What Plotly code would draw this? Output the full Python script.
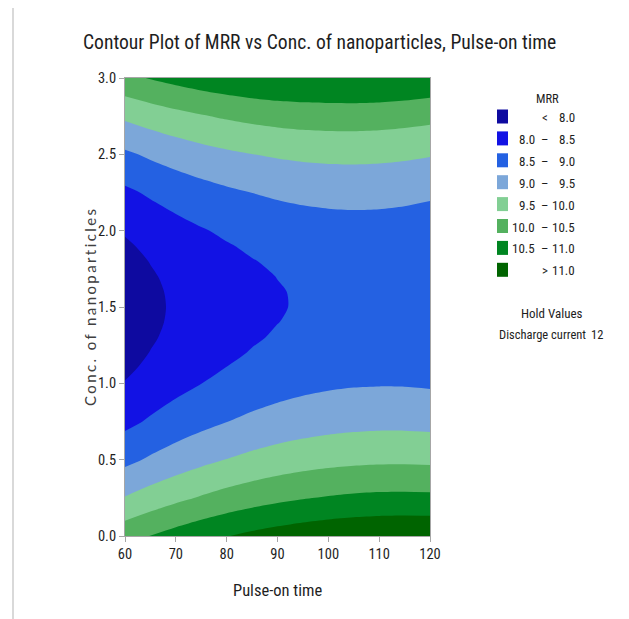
import plotly.graph_objects as go

# ---- data ----
pulse_on_time = [60, 65, 70, 75, 80, 85, 90, 95, 100, 105, 110, 115, 120]
conc_nanoparticles = [0.0, 0.25, 0.5, 0.75, 1.0, 1.1, 1.2, 1.3, 1.4, 1.5,
                      1.6, 1.7, 1.8, 1.9, 2.0, 2.25, 2.5, 2.75, 3.0]

# MRR along conc_nanoparticles, one list per pulse-on time
mrr_t60 = [10.315, 9.524, 8.877, 8.375, 8.019, 7.916, 7.838, 7.782, 7.749, 7.740,
           7.754, 7.791, 7.851, 7.935, 8.042, 8.410, 8.923, 9.582, 10.385]
mrr_t65 = [10.509, 9.713, 9.062, 8.556, 8.195, 8.091, 8.011, 7.953, 7.919, 7.908,
           7.920, 7.956, 8.014, 8.096, 8.201, 8.565, 9.074, 9.728, 10.527]
mrr_t70 = [10.685, 9.885, 9.230, 8.719, 8.354, 8.248, 8.166, 8.107, 8.071, 8.058,
           8.069, 8.102, 8.159, 8.239, 8.342, 8.702, 9.206, 9.856, 10.651]
mrr_t75 = [10.844, 10.039, 9.379, 8.864, 8.495, 8.387, 8.303, 8.242, 8.205, 8.190,
           8.199, 8.231, 8.286, 8.364, 8.466, 8.821, 9.321, 9.966, 10.757]
mrr_t80 = [10.983, 10.174, 9.510, 8.991, 8.617, 8.508, 8.422, 8.359, 8.320, 8.304,
           8.310, 8.341, 8.394, 8.471, 8.570, 8.921, 9.417, 10.058, 10.844]
mrr_t85 = [11.105, 10.291, 9.623, 9.099, 8.721, 8.610, 8.522, 8.458, 8.417, 8.399,
           8.404, 8.433, 8.484, 8.559, 8.657, 9.004, 9.495, 10.132, 10.913]
mrr_t90 = [11.207, 10.389, 9.717, 9.189, 8.806, 8.694, 8.604, 8.538, 8.495, 8.475,
           8.479, 8.506, 8.556, 8.629, 8.725, 9.067, 9.554, 10.186, 10.964]
mrr_t95 = [11.293, 10.471, 9.794, 9.262, 8.874, 8.760, 8.669, 8.601, 8.557, 8.535,
           8.537, 8.562, 8.610, 8.681, 8.776, 9.114, 9.597, 10.224, 10.985]
mrr_t100 = [11.360, 10.533, 9.852, 9.315, 8.924, 8.808, 8.715, 8.646, 8.599, 8.576,
            8.576, 8.599, 8.646, 8.715, 8.808, 9.141, 9.620, 10.243, 10.990]
mrr_t105 = [11.409, 10.578, 9.892, 9.351, 8.956, 8.838, 8.743, 8.672, 8.624, 8.599,
            8.597, 8.619, 8.663, 8.731, 8.822, 9.151, 9.625, 10.245, 10.992]
mrr_t110 = [11.439, 10.604, 9.914, 9.369, 8.968, 8.849, 8.753, 8.680, 8.630, 8.603,
            8.599, 8.619, 8.662, 8.728, 8.818, 9.142, 9.612, 10.227, 10.987]
mrr_t115 = [11.451, 10.612, 9.917, 9.368, 8.963, 8.842, 8.744, 8.669, 8.618, 8.589,
            8.584, 8.602, 8.643, 8.707, 8.795, 9.115, 9.581, 10.191, 10.947]
mrr_t120 = [11.446, 10.602, 9.903, 9.349, 8.940, 8.817, 8.718, 8.641, 8.588, 8.557,
            8.551, 8.567, 8.606, 8.669, 8.755, 9.071, 9.532, 10.138, 10.889]

mrr_columns = [mrr_t60, mrr_t65, mrr_t70, mrr_t75, mrr_t80, mrr_t85, mrr_t90,
               mrr_t95, mrr_t100, mrr_t105, mrr_t110, mrr_t115, mrr_t120]

x_ticks = [60, 70, 80, 90, 100, 110, 120]
y_ticks = [0.0, 0.5, 1.0, 1.5, 2.0, 2.5, 3.0]

level_start, level_end, level_step = 8.0, 11.0, 0.5
band_colors = ["#0e0aa0", "#1212e4", "#2461e2", "#7ca7d9",
               "#82cf94", "#54b15f", "#008521", "#006400"]
legend_low = ["", "8.0", "8.5", "9.0", "9.5", "10.0", "10.5", ""]
legend_mid = ["<", "–", "–", "–", "–", "–", "–", ">"]
legend_high = ["8.0", "8.5", "9.0", "9.5", "10.0", "10.5", "11.0", "11.0"]

# grid as rows (y) x columns (x)
z = [[col[j] for col in mrr_columns] for j in range(len(conc_nanoparticles))]

# ---- layout geometry (screen pixels; page body has an 8px offset) ----
W, H = 629, 619
OFF = 8
L, R, T, B = 125, 430, 78, 536


def px2x(px):
    return (px - L) / (R - L)


def py2y(py):
    return (B - py) / (B - T)


n = len(band_colors)
colorscale = []
for i, c in enumerate(band_colors):
    colorscale.append([i / n, c])
    colorscale.append([(i + 1) / n, c])

fig = go.Figure()
fig.add_trace(go.Contour(
    x=pulse_on_time, y=conc_nanoparticles, z=z,
    contours=dict(start=level_start, end=level_end + level_step, size=level_step,
                  coloring="fill", showlines=False),
    line=dict(width=0, smoothing=0.8),
    colorscale=colorscale, showscale=False, hoverinfo="skip",
))

FONT = "Roboto Condensed, Lato"
TXT = "#1e1e1e"
axis_common = dict(showline=True, mirror=True, linecolor="#a6a6a6", linewidth=1,
                   ticks="outside", ticklen=5, tickcolor="#a6a6a6",
                   showgrid=False, zeroline=False,
                   tickfont=dict(family=FONT, size=14.5, color=TXT))

fig.update_layout(
    width=W, height=H,
    margin=dict(l=L - OFF, r=W - (R - OFF), t=T - OFF, b=H - (B - OFF)),
    paper_bgcolor="white", plot_bgcolor="white",
    showlegend=False,
    xaxis=dict(range=[60, 120], tickvals=x_ticks, **axis_common),
    yaxis=dict(range=[0, 3], tickvals=y_ticks, tickformat=".1f", **axis_common),
)

ann = []
ann.append(dict(text="Contour Plot of MRR vs Conc. of nanoparticles, Pulse-on time",
                x=px2x(319.5), y=py2y(42), xanchor="center", yanchor="middle",
                font=dict(family=FONT, size=19.6, color=TXT)))
ann.append(dict(text="Pulse-on time", x=px2x(277.5), y=py2y(590),
                xanchor="center", yanchor="middle",
                font=dict(family=FONT, size=16.5, color=TXT)))
ann.append(dict(text='<span style="letter-spacing:2.4px">Conc. of nanoparticles</span>',
                x=px2x(90), y=py2y(307),
                xanchor="center", yanchor="middle", textangle=-90,
                font=dict(family="Lato", size=15, color="#404040")))
ann.append(dict(text="MRR", x=px2x(547), y=py2y(98), xanchor="center", yanchor="middle",
                font=dict(family=FONT, size=12.5, color=TXT)))

shapes = []
row0, row_step = 116.5, 21.9
LEG = 13
for i in range(n):
    cy = row0 + i * row_step
    shapes.append(dict(type="rect", xref="paper", yref="paper",
                       x0=px2x(497), x1=px2x(508), y0=py2y(cy + 7), y1=py2y(cy - 7),
                       fillcolor=band_colors[i], line=dict(width=0)))
    ty = py2y(cy + 1)
    if legend_low[i]:
        ann.append(dict(text=legend_low[i], x=px2x(537), y=ty, xanchor="right",
                        yanchor="middle", font=dict(family=FONT, size=LEG, color=TXT)))
    ann.append(dict(text=legend_mid[i], x=px2x(544.5), y=ty, xanchor="center",
                    yanchor="middle", font=dict(family=FONT, size=LEG, color=TXT)))
    ann.append(dict(text=legend_high[i], x=px2x(577), y=ty, xanchor="right",
                    yanchor="middle", font=dict(family=FONT, size=LEG, color=TXT)))

ann.append(dict(text="Hold Values", x=px2x(552), y=py2y(313), xanchor="center",
                yanchor="middle", font=dict(family=FONT, size=13, color=TXT)))
ann.append(dict(text="Discharge current", x=px2x(497), y=py2y(335), xanchor="left",
                yanchor="middle", font=dict(family=FONT, size=12.5, color=TXT)))
ann.append(dict(text="12", x=px2x(597), y=py2y(335), xanchor="center",
                yanchor="middle", font=dict(family=FONT, size=12.5, color=TXT)))

for a in ann:
    a.update(xref="paper", yref="paper", showarrow=False)

# outer frame of the picture
shapes.append(dict(type="rect", xref="paper", yref="paper",
                   x0=px2x(13), x1=px2x(626), y0=py2y(660), y1=py2y(7),
                   line=dict(color="#d9d9d9", width=2), fillcolor="rgba(0,0,0,0)",
                   layer="below"))

fig.update_layout(annotations=ann, shapes=shapes)
fig.write_html("out.html")
